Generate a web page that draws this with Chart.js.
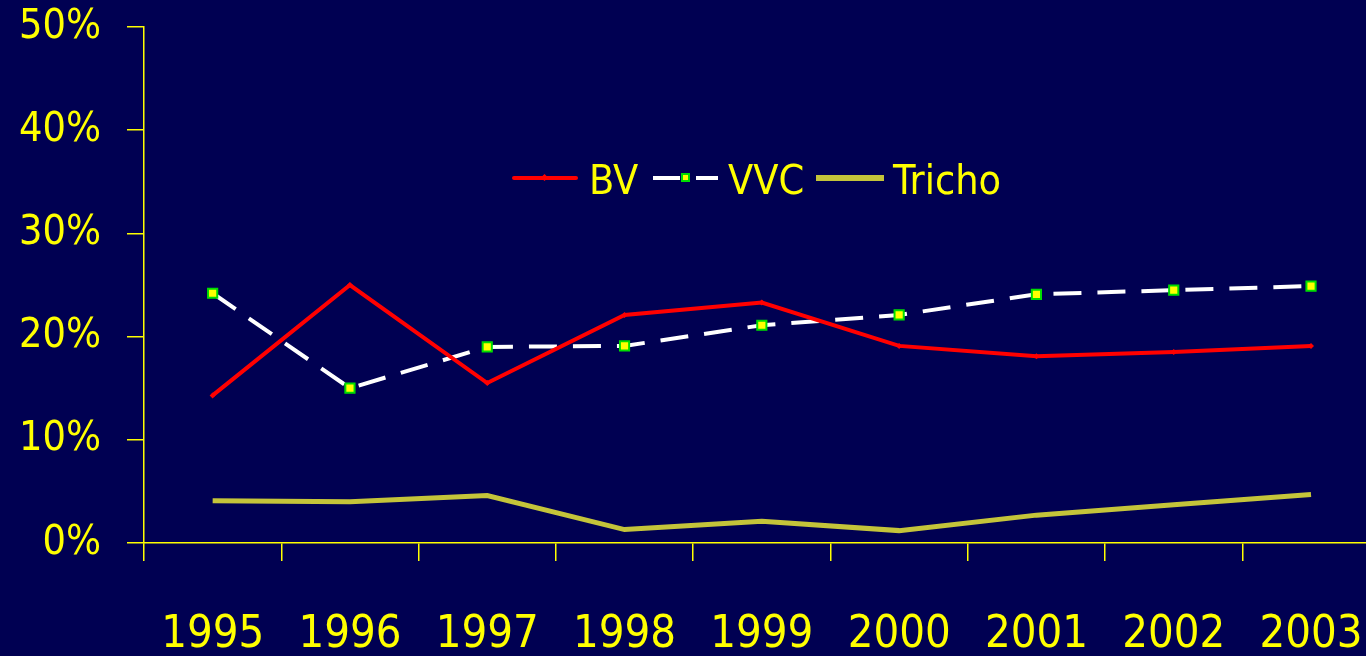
<!DOCTYPE html>
<html>
<head>
<meta charset="utf-8">
<script src="https://cdn.jsdelivr.net/npm/chart.js@4/dist/chart.umd.min.js"></script>
<style>
  html, body { margin: 0; padding: 0; background: #000052; overflow: hidden; }
  #wrap { position: relative; width: 1366px; height: 656px; overflow: hidden; }
  #chart { position: absolute; left: 0; top: 0; }
  #legend {
    position: absolute; left: 0; top: 155px; width: 1366px; height: 50px;
    font-family: 'DejaVu Sans Condensed', 'DejaVu Sans', sans-serif;
    font-size: 41px; color: #ffff00; line-height: 50px;
  }
  .swatch { position: absolute; top: 18px; height: 10px; }
  .lbl { position: absolute; top: 0; }
</style>
</head>
<body>
<div id="wrap">
  <canvas id="chart" width="1410" height="656"></canvas>
  <div id="legend"></div>
</div>
<script>
// Values (percent).
const years = ['1995', '1996', '1997', '1998', '1999', '2000', '2001', '2002', '2003'];
const bvValues = [14.3, 25.0, 15.5, 22.1, 23.3, 19.1, 18.1, 18.5, 19.1];
const vvcValues = [24.2, 15.0, 19.0, 19.1, 21.1, 22.1, 24.1, 24.5, 24.9];
const trichoValues = [4.1, 4.0, 4.6, 1.3, 2.1, 1.2, 2.7, 3.7, 4.7];
const yTicks = [0, 10, 20, 30, 40, 50];

const seriesNames = ['BV', 'VVC', 'Tricho'];

const yellow = '#ffff00';
const fontFamily = "'DejaVu Sans Condensed', 'DejaVu Sans', sans-serif";

const chartData = {
  labels: years,
  datasets: [
    {
      label: seriesNames[0],
      data: bvValues,
      borderColor: '#ff0000',
      backgroundColor: '#ff0000',
      borderWidth: 4,
      pointStyle: 'rectRot',
      pointRadius: 3,
      pointBorderWidth: 0,
      tension: 0
    },
    {
      label: seriesNames[1],
      data: vvcValues,
      borderColor: '#ffffff',
      borderWidth: 4,
      borderDash: [28, 16],
      pointStyle: 'rect',
      pointRadius: 6.5,
      pointBackgroundColor: '#ffff00',
      pointBorderColor: '#00dd00',
      pointBorderWidth: 2,
      tension: 0
    },
    {
      label: seriesNames[2],
      data: trichoValues,
      borderColor: '#c4c43a',
      borderWidth: 5,
      pointRadius: 0,
      tension: 0
    }
  ]
};

new Chart(document.getElementById('chart'), {
  type: 'line',
  data: chartData,
  options: {
    responsive: false,
    animation: false,
    devicePixelRatio: 1,
    layout: { padding: { top: 27, right: 1, bottom: 0, left: 0 } },
    plugins: {
      legend: { display: false },
      tooltip: { enabled: false }
    },
    scales: {
      x: {
        offset: true,
        grid: {
          display: true,
          offset: true,
          drawOnChartArea: false,
          drawTicks: true,
          tickLength: 18,
          color: yellow,
          lineWidth: 1.5
        },
        border: { display: true, color: yellow, width: 1.5 },
        ticks: {
          color: yellow,
          font: { family: fontFamily, size: 45 },
          padding: 47,
          maxRotation: 0,
          autoSkip: false
        },
        afterFit: (axis) => { axis.height = 113; }
      },
      y: {
        min: yTicks[0],
        max: yTicks[yTicks.length - 1],
        afterBuildTicks: (axis) => { axis.ticks = yTicks.map(v => ({ value: v })); },
        grid: {
          display: true,
          drawOnChartArea: false,
          drawTicks: true,
          tickLength: 17,
          color: yellow,
          lineWidth: 1.5
        },
        border: { display: true, color: yellow, width: 1.5 },
        ticks: {
          color: yellow,
          font: { family: fontFamily, size: 41 },
          padding: 26,
          callback: (v) => v + '%'
        },
        afterFit: (axis) => {
          axis.width = 144;
          axis.paddingTop = 0;
          axis.paddingBottom = 0;
        }
      }
    }
  }
});

// Legend built as HTML so it can sit inside the plot like the original.
const legend = document.getElementById('legend');
const swatchLeft = [512, 653, 816];
const labelLeft = [589, 728, 893];
const swatches = [
  '<div style="position:absolute;left:0;top:3px;width:66px;height:4px;background:#ff0000;border-radius:2px"></div>' +
    '<div style="position:absolute;left:30px;top:2px;width:5px;height:5px;background:#ff0000;transform:rotate(45deg)"></div>',
  '<div style="position:absolute;left:0;top:3px;width:27px;height:4px;background:#fff"></div>' +
    '<div style="position:absolute;left:28px;top:0;width:5px;height:5px;background:#ffff00;border:2px solid #00dd00"></div>' +
    '<div style="position:absolute;left:43px;top:3px;width:22px;height:4px;background:#fff"></div>',
  '<div style="position:absolute;left:0;top:2px;width:68px;height:6px;background:#c4c43a"></div>'
];
seriesNames.forEach((name, i) => {
  const sw = document.createElement('div');
  sw.className = 'swatch';
  sw.style.left = swatchLeft[i] + 'px';
  sw.innerHTML = swatches[i];
  legend.appendChild(sw);
  const lbl = document.createElement('span');
  lbl.className = 'lbl';
  lbl.style.left = labelLeft[i] + 'px';
  lbl.textContent = name;
  legend.appendChild(lbl);
});
</script>
</body>
</html>
